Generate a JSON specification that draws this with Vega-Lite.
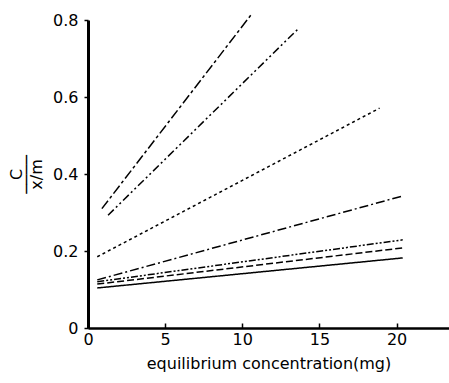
{
  "$schema": "https://vega.github.io/schema/vega-lite/v6.json",
  "autosize": "none",
  "width": 361,
  "height": 308,
  "padding": {"left": 88, "top": 20, "right": 0, "bottom": 55},
  "background": "white",
  "config": {
    "view": {"stroke": null},
    "axis": {"grid": false, "domainColor": "black", "tickColor": "black", "labelColor": "black", "titleColor": "black", "labelFont": "DejaVu Sans", "titleFont": "DejaVu Sans", "titleFontWeight": "normal"}
  },
  "data": {"values": [
    {"s": "a", "x": 0.9, "y": 0.31}, {"s": "a", "x": 10.6, "y": 0.815},
    {"s": "b", "x": 1.3, "y": 0.293}, {"s": "b", "x": 13.7, "y": 0.78},
    {"s": "c", "x": 0.6, "y": 0.185}, {"s": "c", "x": 18.9, "y": 0.571},
    {"s": "d", "x": 0.6, "y": 0.125}, {"s": "d", "x": 20.4, "y": 0.343},
    {"s": "e", "x": 0.6, "y": 0.12}, {"s": "e", "x": 20.4, "y": 0.229},
    {"s": "f", "x": 0.6, "y": 0.114}, {"s": "f", "x": 20.4, "y": 0.208},
    {"s": "g", "x": 0.6, "y": 0.104}, {"s": "g", "x": 20.4, "y": 0.182}
  ]},
  "mark": {"type": "line", "color": "black", "strokeWidth": 1.5},
  "encoding": {
    "x": {"field": "x", "type": "quantitative", "scale": {"domain": [0, 23.4], "nice": false},
      "axis": {"values": [0, 5, 10, 15, 20], "title": "equilibrium  concentration(mg)", "titleFontSize": 16, "titlePadding": 8, "labelFontSize": 16, "labelPadding": 8, "tickSize": -5, "domainWidth": 2.5, "tickWidth": 1.5, "labelFlush": false}},
    "y": {"field": "y", "type": "quantitative", "scale": {"domain": [0, 0.8], "nice": false},
      "axis": {"values": [0, 0.2, 0.4, 0.6, 0.8], "labelExpr": "datum.value == 0 ? '0' : format(datum.value, '.1f')", "title": ["C", "────", "x/m"], "titleLineHeight": 10, "titleFontSize": 16, "titlePadding": 8, "labelFontSize": 16, "labelPadding": 6, "tickSize": 4, "domainWidth": 3, "tickWidth": 1.5, "labelFlush": false}},
    "detail": {"field": "s"},
    "strokeDash": {"field": "s", "type": "nominal", "legend": null,
      "scale": {"domain": ["a", "b", "c", "d", "e", "f", "g"],
        "range": [[10, 3, 3, 3], [8, 3, 2, 3, 2, 3], [3, 3], [9, 3, 2, 3], [7, 2, 2, 2, 2, 2], [7, 3], [1, 0]]}}
  }
}
